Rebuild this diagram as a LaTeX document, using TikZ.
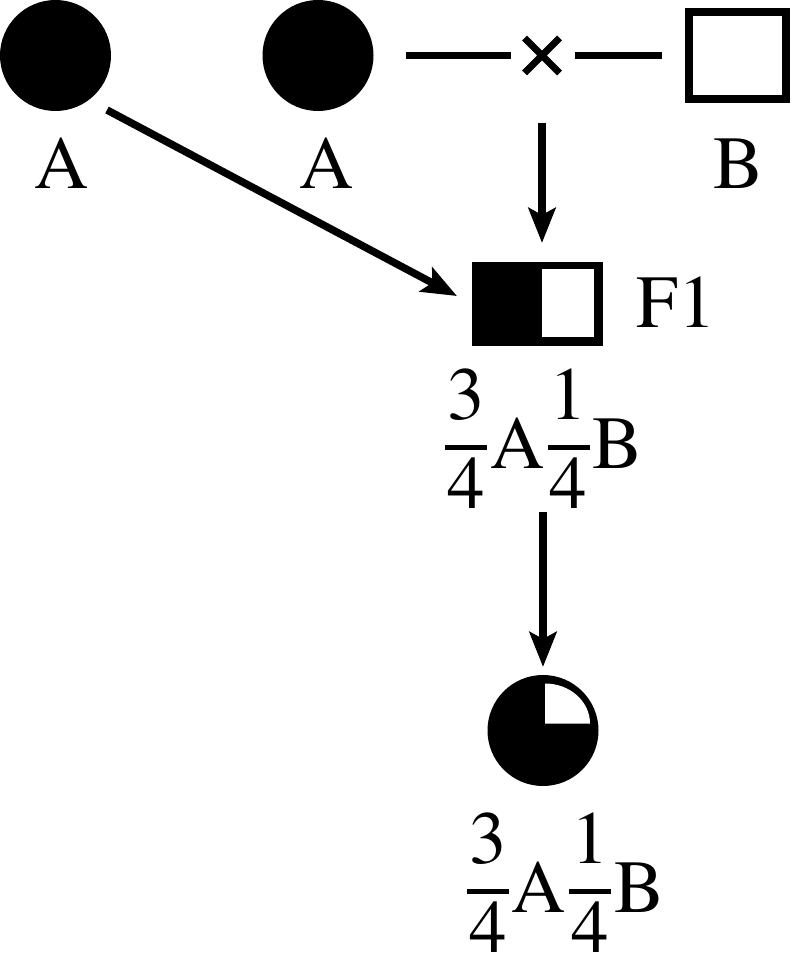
\documentclass[tikz,border=0pt]{standalone}
\usepackage{fontspec}
\setmainfont{texgyretermes-regular.otf}
\usetikzlibrary{arrows.meta,shapes.misc}
\newcommand\myfr[2]{\kern3pt\makebox[42pt][l]{%
  \rlap{\raisebox{49pt}{\makebox[42pt]{#1}}}%
  \rlap{\raisebox{18.5pt}{\rule{42pt}{5pt}}}%
  \rlap{\raisebox{-40pt}{\makebox[42pt]{#2}}}}\kern3pt}
\begin{document}
\begin{tikzpicture}[x=1pt,y=-1pt,
  dot/.style={circle,fill=black,minimum size=111pt,inner sep=0pt,outer sep=0pt},
  lbl/.style={font=\fontsize{75}{90}\selectfont,anchor=base,inner sep=0pt},
  ln/.style={line width=7.5pt},
  arr/.style={line width=7.5pt,-{Stealth[length=35pt,width=27pt,inset=7pt]}}]
\useasboundingbox (0,0) rectangle (792,977);
% parents
\node[dot] (p1) at (55.5,55.5) {};
\node[dot] (p2) at (318,55.5) {};
\node[draw,line width=8pt,minimum width=97pt,minimum height=87pt,inner sep=0pt,outer sep=4pt] (p3) at (737.5,55.5) {};
\node[lbl] (l1) at (61.5,188) {A};
\node[lbl] (l2) at (327,188) {A};
\node[lbl] (l3) at (738.5,188) {B};
% cross
\node[cross out,draw,line width=7pt,minimum size=35pt,inner sep=0pt,outer sep=0pt] (x) at (542,55.5) {};
\draw[ln,shorten <=32pt,shorten >=14pt] (p2) -- (x);
\draw[ln,shorten <=15pt,shorten >=23pt] (x) -- (p3);
% F1
\node[fill=black,minimum width=131pt,minimum height=84pt,inner sep=0pt,outer sep=0pt] (F1) at (537.5,304) {};
\fill[white] ([xshift=-9pt,yshift=-7pt]F1.north east) rectangle ([xshift=4.5pt,yshift=9pt]F1.south);
\node[lbl] (lf) at (676.5,327) {F1};
\draw[arr,shorten <=50pt,shorten >=19pt] (x) -- (x |- F1.north);
\coordinate (s1) at ([xshift=51.5pt,yshift=-54.5pt]p1.center);
\draw[arr,shorten >=17pt] (s1) -- (F1.west);
\node[lbl] (t1) at (542.5,468) {\myfr{3}{4}A\myfr{1}{4}B};
% offspring
\node[dot] (c4) at (543,730.5) {};
\fill[white] ([xshift=2pt,yshift=7pt]c4.center) -- ++(45,0) arc[start angle=0,end angle=-90,x radius=45,y radius=40] -- cycle;
\draw[arr,shorten <=166pt,shorten >=8pt] (c4 |- F1.south) -- (c4.north);
\node[lbl] (t2) at (564,912) {\myfr{3}{4}A\myfr{1}{4}B};
\end{tikzpicture}
\end{document}
